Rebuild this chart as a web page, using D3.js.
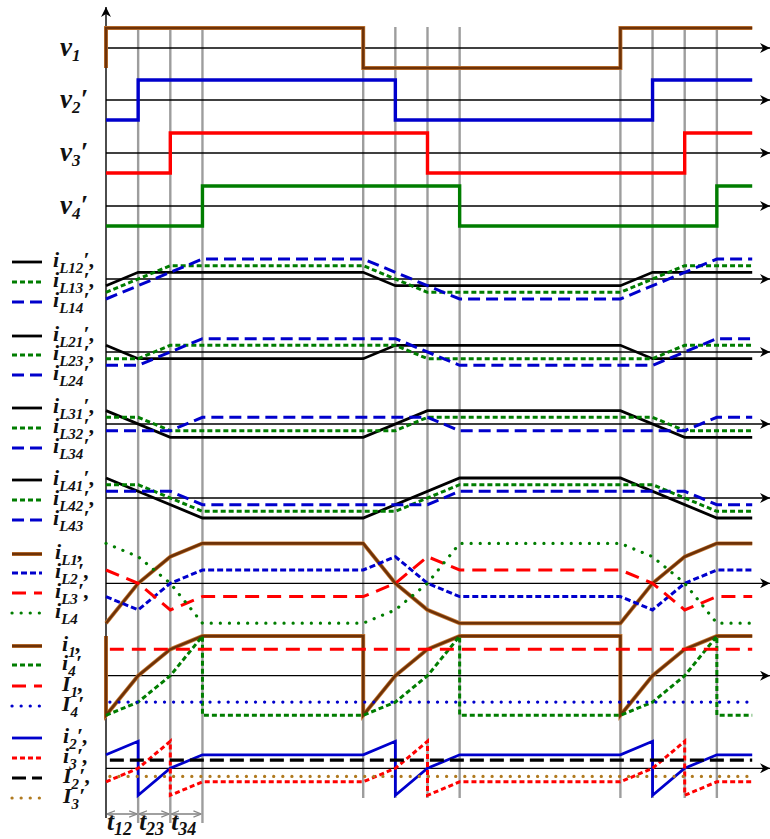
<!DOCTYPE html>
<html>
<head>
<meta charset="utf-8">
<script src="https://cdn.jsdelivr.net/npm/d3@7"></script>
<style>
  body { margin: 0; background: #fff; }
  text { font-family: "Liberation Serif", "Times New Roman", serif; font-style: italic; font-weight: bold; fill: #111; }
</style>
</head>
<body>
<div id="chart"></div>
<script>
// time is in units of one interval t12 (= t23 = t34)
const gridTimes = [1, 2, 3, 8, 9, 10, 11, 16, 17, 18, 19];
const tEnd = 20.1;
const dimSpans = [[0, 1, "t", "12"], [1, 2, "t", "23"], [2, 3, "t", "34"]];

// gate voltages (+1 high / -1 low)
const v1 = [[0, -1], [0, 1], [8, 1], [8, -1], [16, -1], [16, 1], [tEnd, 1]];
const v2 = [[0, -1], [1, -1], [1, 1], [9, 1], [9, -1], [17, -1], [17, 1], [tEnd, 1]];
const v3 = [[0, -1], [2, -1], [2, 1], [10, 1], [10, -1], [18, -1], [18, 1], [tEnd, 1]];
const v4 = [[0, -1], [3, -1], [3, 1], [11, 1], [11, -1], [19, -1], [19, 1], [tEnd, 1]];

// coupled inductor currents
const iL12 = [[0, -1], [1, 1], [8, 1], [9, -1], [16, -1], [17, 1], [tEnd, 1]];
const iL13 = [[0, -2], [2, 2], [8, 2], [10, -2], [16, -2], [18, 2], [tEnd, 2]];
const iL14 = [[0, -3], [3, 3], [8, 3], [11, -3], [16, -3], [19, 3], [tEnd, 3]];
const iL21 = [[0, 1], [1, -1], [8, -1], [9, 1], [16, 1], [17, -1], [tEnd, -1]];
const iL23 = [[0, -1], [1, -1], [2, 1], [9, 1], [10, -1], [17, -1], [18, 1], [tEnd, 1]];
const iL24 = [[0, -2], [1, -2], [3, 2], [9, 2], [11, -2], [17, -2], [19, 2], [tEnd, 2]];
const iL31 = [[0, 2], [2, -2], [8, -2], [10, 2], [16, 2], [18, -2], [tEnd, -2]];
const iL32 = [[0, 1], [1, 1], [2, -1], [9, -1], [10, 1], [17, 1], [18, -1], [tEnd, -1]];
const iL34 = [[0, -1], [2, -1], [3, 1], [10, 1], [11, -1], [18, -1], [19, 1], [tEnd, 1]];
const iL41 = [[0, 3], [3, -3], [8, -3], [11, 3], [16, 3], [19, -3], [tEnd, -3]];
const iL42 = [[0, 2], [1, 2], [3, -2], [9, -2], [11, 2], [17, 2], [19, -2], [tEnd, -2]];
const iL43 = [[0, 1], [2, 1], [3, -1], [10, -1], [11, 1], [18, 1], [19, -1], [tEnd, -1]];

// phase inductor currents
const iL1 = [[0, -3], [1, 0], [2, 2], [3, 3], [8, 3], [9, 0], [10, -2], [11, -3], [16, -3], [17, 0], [18, 2], [19, 3], [tEnd, 3]];
const iL2 = [[0, -1], [1, -2], [2, 0], [3, 1], [8, 1], [9, 2], [10, 0], [11, -1], [16, -1], [17, -2], [18, 0], [19, 1], [tEnd, 1]];
const iL3 = [[0, 1], [1, 0], [2, -2], [3, -1], [8, -1], [9, 0], [10, 2], [11, 1], [16, 1], [17, 0], [18, -2], [19, -1], [tEnd, -1]];
const iL4 = [[0, 3], [1, 2], [2, 0], [3, -3], [8, -3], [9, -2], [10, 0], [11, 3], [16, 3], [17, 2], [18, 0], [19, -3], [tEnd, -3]];

// switch currents and their averages
const i1 = [[0, 3], [0, -3], [1, 0], [2, 2], [3, 3], [8, 3], [8, -3], [9, 0], [10, 2], [11, 3], [16, 3], [16, -3], [17, 0], [18, 2], [19, 3], [tEnd, 3]];
const i4 = [[0, -3], [1, -2], [2, 0], [3, 3], [3, -3], [8, -3], [9, -2], [10, 0], [11, 3], [11, -3], [16, -3], [17, -2], [18, 0], [19, 3], [19, -3], [tEnd, -3]];
const I1 = [[0.12, 2], [tEnd, 2]];
const I4 = [[0.12, -2], [tEnd, -2]];
const i2 = [[0, 1], [1, 2], [1, -2], [2, 0], [3, 1], [8, 1], [9, 2], [9, -2], [10, 0], [11, 1], [16, 1], [17, 2], [17, -2], [18, 0], [19, 1], [tEnd, 1]];
const i3 = [[0, -1], [1, 0], [2, 2], [2, -2], [3, -1], [8, -1], [9, 0], [10, 2], [10, -2], [11, -1], [16, -1], [17, 0], [18, 2], [18, -2], [19, -1], [tEnd, -1]];
const I2 = [[0.12, 0.6], [tEnd, 0.6]];
const I3 = [[0.12, -0.6], [tEnd, -0.6]];

const width = 770, height = 839;
const x = d3.scaleLinear().domain([0, 20]).range([106, 749]);

const BROWN = "#6e3208", BLUE = "#0000cc", RED = "#ff0000", GREEN = "#007d00";
const styles = {
    brown: { color: BROWN, w: 2.6, halo: true },
    vblue: { color: BLUE, w: 3.4 }, vred: { color: RED, w: 3.4 }, vgreen: { color: GREEN, w: 3.4 },
    black: { color: "#000", w: 2.8 },
    blue: { color: BLUE, w: 2.8 },
    greenDash: { color: GREEN, w: 3, dash: "5,3" },
    blueLong: { color: BLUE, w: 3, dash: "12,6" },
    blueDash: { color: BLUE, w: 3, dash: "6,3" },
    redLong: { color: RED, w: 3, dash: "14,8" },
    redDash: { color: RED, w: 3, dash: "5,3" },
    greenDot: { color: GREEN, w: 3.2, dash: "0.1,9", cap: "round" },
    blueDot: { color: BLUE, w: 3.2, dash: "0.1,9", cap: "round" },
    blackLong: { color: "#000", w: 3.2, dash: "14,6" },
    goldDot: { color: "#b07a20", w: 3.2, dash: "0.1,9", cap: "round" }
};

const panels = [
    { axis: 48, unit: 20, labels: [{ x: 60, y: 56, m: "v", s: "1", p: "" }],
      traces: [[v1, "brown"]] },
    { axis: 100, unit: 20, labels: [{ x: 60, y: 108, m: "v", s: "2", p: "′" }],
      traces: [[v2, "vblue"]] },
    { axis: 153, unit: 20, labels: [{ x: 60, y: 161, m: "v", s: "3", p: "′" }],
      traces: [[v3, "vred"]] },
    { axis: 206, unit: 20, labels: [{ x: 60, y: 214, m: "v", s: "4", p: "′" }],
      traces: [[v4, "vgreen"]] },
    { axis: 279, unit: 6.67, legendY: [262, 282, 302], lx: 53,
      labels: [{ m: "i", s: "L12", p: "′," }, { m: "i", s: "L13", p: "′," }, { m: "i", s: "L14", p: "′" }],
      traces: [[iL12, "black"], [iL13, "greenDash"], [iL14, "blueLong"]] },
    { axis: 352, unit: 6.67, legendY: [336, 355, 375], lx: 53,
      labels: [{ m: "i", s: "L21", p: "′," }, { m: "i", s: "L23", p: "′," }, { m: "i", s: "L24", p: "′" }],
      traces: [[iL21, "black"], [iL23, "greenDash"], [iL24, "blueLong"]] },
    { axis: 424, unit: 6.67, legendY: [408, 428, 448], lx: 53,
      labels: [{ m: "i", s: "L31", p: "′," }, { m: "i", s: "L32", p: "′," }, { m: "i", s: "L34", p: "′" }],
      traces: [[iL31, "black"], [iL32, "greenDash"], [iL34, "blueLong"]] },
    { axis: 498, unit: 6.67, legendY: [480, 500, 520], lx: 53,
      labels: [{ m: "i", s: "L41", p: "′," }, { m: "i", s: "L42", p: "′," }, { m: "i", s: "L43", p: "′" }],
      traces: [[iL41, "black"], [iL42, "greenDash"], [iL43, "blueLong"]] },
    { axis: 583.3, unit: 13.3, legendY: [554, 573, 593, 613], lx: 55,
      labels: [{ m: "i", s: "L1", p: "," }, { m: "i", s: "L2", p: "′," }, { m: "i", s: "L3", p: "′," }, { m: "i", s: "L4", p: "" }],
      traces: [[iL1, "brown"], [iL2, "blueDash"], [iL3, "redLong"], [iL4, "greenDot"]] },
    { axis: 675.7, unit: 13.2, legendY: [646, 665, 686, 706], lx: 62,
      labels: [{ m: "i", s: "1", p: "," }, { m: "i", s: "4", p: "′" }, { m: "I", s: "1", p: "," }, { m: "I", s: "4", p: "′" }],
      traces: [[i1, "brown"], [i4, "greenDash"], [I1, "redLong"], [I4, "blueDot"]] },
    { axis: 768.3, unit: 13.5, legendY: [738, 758, 778, 798], lx: 63,
      labels: [{ m: "i", s: "2", p: "′," }, { m: "i", s: "3", p: "′," }, { m: "I", s: "2", p: "′," }, { m: "I", s: "3", p: "′" }],
      traces: [[i2, "blue"], [i3, "redDash"], [I2, "blackLong"], [I3, "goldDot"]] }
];

const svg = d3.select("#chart").append("svg")
    .attr("width", width)
    .attr("height", height);

const defs = svg.append("defs");
defs.append("marker").attr("id", "arr")
    .attr("viewBox", "0 0 10 10").attr("refX", 10).attr("refY", 5)
    .attr("markerWidth", 10).attr("markerHeight", 10).attr("markerUnits", "userSpaceOnUse")
    .attr("orient", "auto")
    .append("path").attr("d", "M0,0 L10,5 L0,10 L3,5 Z").attr("fill", "#000");
defs.append("marker").attr("id", "dimArr")
    .attr("viewBox", "0 0 10 10").attr("refX", 10).attr("refY", 5)
    .attr("markerWidth", 8).attr("markerHeight", 8).attr("markerUnits", "userSpaceOnUse")
    .attr("orient", "auto-start-reverse")
    .append("path").attr("d", "M0,1 L10,5 L0,9").attr("fill", "none").attr("stroke", "#888").attr("stroke-width", 1.6);

// grey interval lines
svg.append("g").selectAll("line")
    .data(gridTimes)
    .join("line")
    .attr("x1", d => x(d)).attr("x2", d => x(d))
    .attr("y1", 27)
    .attr("y2", d => d <= 3 ? 823 : 798)
    .attr("stroke", "#8c8c8c")
    .attr("stroke-opacity", 0.85)
    .attr("stroke-width", 2.4);

// vertical axis
svg.append("line")
    .attr("x1", x(0)).attr("x2", x(0))
    .attr("y1", 818).attr("y2", 7)
    .attr("stroke", "#000").attr("stroke-width", 1.4)
    .attr("marker-end", "url(#arr)");

const line = d3.line();

function drawPath(g, data, y, st) {
    const d = line(data.map(p => [x(p[0]), y(p[1])]));
    if (st.halo) {
        g.append("path").attr("d", d).attr("fill", "none")
            .attr("stroke", "#c77a35").attr("stroke-width", st.w + 1.4)
            .attr("stroke-linejoin", "miter");
    }
    g.append("path").attr("d", d).attr("fill", "none")
        .attr("stroke", st.color)
        .attr("stroke-width", st.w)
        .attr("stroke-dasharray", st.dash || null)
        .attr("stroke-linecap", st.cap || "butt")
        .attr("stroke-linejoin", "miter");
}

function drawLabel(g, lx, ly, lab, size, subSize, shift) {
    const t = g.append("text").attr("x", lx).attr("y", ly)
        .style("font-size", size + "px");
    t.append("tspan").text(lab.m);
    t.append("tspan").attr("dy", shift)
        .style("font-size", subSize + "px").text(lab.s);
    if (lab.p) t.append("tspan").attr("dy", -shift).text(lab.p);
}

panels.forEach(p => {
    const y = d3.scaleLinear().domain([-1, 1]).range([p.axis + p.unit, p.axis - p.unit]);
    const g = svg.append("g");

    // horizontal axis with arrow
    g.append("line")
        .attr("x1", x(0)).attr("x2", 770)
        .attr("y1", p.axis).attr("y2", p.axis)
        .attr("stroke", "#000").attr("stroke-width", 1.3)
        .attr("marker-end", "url(#arr)");

    p.traces.forEach(([data, key]) => drawPath(g, data, y, styles[key]));

    if (p.legendY) {
        p.traces.forEach(([data, key], i) => {
            const st = styles[key];
            const ly = p.legendY[i];
            if (st.halo) {
                g.append("line").attr("x1", 12).attr("x2", 42).attr("y1", ly).attr("y2", ly)
                    .attr("stroke", "#c77a35").attr("stroke-width", st.w + 1.4);
            }
            g.append("line").attr("x1", 12).attr("x2", 42).attr("y1", ly).attr("y2", ly)
                .attr("stroke", st.color).attr("stroke-width", st.w)
                .attr("stroke-dasharray", st.dash || null)
                .attr("stroke-linecap", st.cap || "butt");
            drawLabel(g, p.lx, ly + 5, p.labels[i], 22, 15, 6);
        });
    } else {
        p.labels.forEach(l => drawLabel(g, l.x, l.y, l, 27, 17, 5));
    }
});

// interval dimension arrows
const dim = svg.append("g");
dimSpans.forEach(([a, b, m, s]) => {
    dim.append("line")
        .attr("x1", x(a) + 1).attr("x2", x(b) - 1)
        .attr("y1", 814).attr("y2", 814)
        .attr("stroke", "#888").attr("stroke-width", 1.6)
        .attr("marker-start", "url(#dimArr)")
        .attr("marker-end", "url(#dimArr)");
    drawLabel(dim, x(a) + 1, 830, { m: m, s: s, p: "" }, 25, 18, 5);
});
</script>
</body>
</html>
